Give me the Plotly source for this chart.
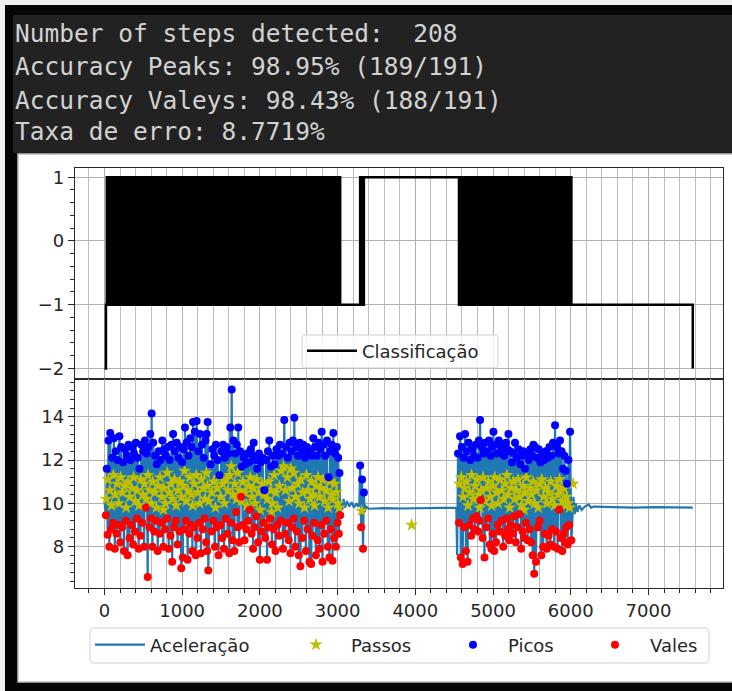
import numpy as np
import plotly.graph_objects as go

W, H = 732, 691

# ---------------- detected peaks (Picos) ----------------
picos_x = [
    30, 52, 74, 98, 121, 145, 168, 192, 215, 239,
    262, 286, 310, 333, 357, 380, 404, 428, 451, 475,
    498, 521, 545, 568, 590, 607, 628, 651, 674, 698,
    721, 745, 768, 792, 815, 838, 862, 883, 906, 930,
    953, 977, 1000, 1018, 1036, 1058, 1081, 1104, 1122, 1140,
    1163, 1186, 1208, 1231, 1254, 1277, 1300, 1315, 1328, 1365,
    1388, 1411, 1434, 1457, 1480, 1503, 1526, 1549, 1572, 1595,
    1620, 1637, 1660, 1683, 1704, 1722, 1745, 1768, 1791, 1814,
    1837, 1860, 1883, 1905, 1920, 1943, 1966, 1989, 2012, 2035,
    2058, 2081, 2104, 2121, 2144, 2167, 2190, 2213, 2236, 2259,
    2282, 2314, 2337, 2360, 2383, 2406, 2425, 2443, 2466, 2489,
    2512, 2535, 2558, 2581, 2604, 2627, 2650, 2670, 2687, 2710,
    2733, 2756, 2778, 2795, 2818, 2841, 2864, 2884, 2905, 2925,
    2945, 2968, 2990, 3008, 3024,
    3290, 3315, 3338,
    4550, 4575, 4598, 4621, 4640, 4662, 4685, 4708, 4731, 4754,
    4777, 4800, 4818, 4833, 4856, 4879, 4902, 4925, 4948, 4970,
    4988, 5005, 5028, 5051, 5074, 5097, 5120, 5143, 5166, 5184,
    5198, 5221, 5244, 5266, 5283, 5306, 5329, 5352, 5372, 5390,
    5412, 5435, 5458, 5481, 5500, 5519, 5542, 5565, 5588, 5611,
    5634, 5657, 5680, 5703, 5726, 5749, 5772, 5798, 5821, 5842,
    5862, 5882, 5900, 5918, 5935, 5952, 5970, 5991,
]
picos_y = [
    11.6, 12.9, 13.25, 12.1, 13.0, 12.4, 12.0, 13.1, 12.6, 11.9,
    12.5, 12.2, 12.7, 12.0, 12.6, 12.3, 12.8, 12.1, 11.6, 12.7,
    12.4, 12.9, 12.3, 12.6, 13.2, 14.15, 12.8, 12.2, 11.8, 12.4,
    12.0, 12.9, 12.5, 12.2, 12.6, 12.0, 12.7, 13.2, 12.4, 12.8,
    12.1, 12.6, 11.9, 12.5, 13.5, 12.8, 12.2, 13.0, 12.6, 13.75,
    13.3, 13.8, 12.4, 13.2, 12.7, 12.1, 12.9, 13.2, 13.75, 11.8,
    12.5, 12.2, 12.7, 12.0, 11.3, 12.4, 12.7, 12.1, 12.6, 12.3,
    13.5, 15.25, 12.9, 12.3, 12.7, 13.5, 12.4, 11.7, 12.1, 11.8,
    12.3, 11.9, 12.5, 12.2, 12.8, 12.0, 11.6, 12.3, 11.9, 12.1,
    10.6, 12.0, 12.4, 12.9, 11.7, 12.2, 11.8, 12.5, 12.2, 12.7,
    12.3, 13.85, 12.6, 12.1, 12.8, 12.4, 12.9, 13.95, 12.6, 12.2,
    12.8, 12.4, 12.7, 12.1, 12.6, 12.3, 12.5, 12.2, 13.0, 12.6,
    12.2, 12.8, 12.5, 13.3, 12.7, 12.2, 12.9, 11.2, 12.4, 12.7,
    13.25, 12.3, 12.6, 12.1, 11.4,
    11.75, 11.1, 10.5,
    12.3, 13.1, 12.6, 12.1, 13.2, 12.4, 12.8, 12.0, 12.5, 12.2,
    12.7, 12.1, 12.9, 13.85, 12.6, 12.3, 12.8, 12.4, 12.9, 12.2,
    12.6, 13.3, 12.7, 12.3, 12.9, 12.4, 12.6, 12.2, 12.8, 12.5,
    13.2, 12.4, 11.9, 12.3, 12.8, 12.1, 12.5, 11.8, 12.2, 12.4,
    11.6, 12.3, 12.0, 12.5, 12.2, 12.7, 12.6, 12.1, 12.5, 11.9,
    12.3, 12.0, 12.4, 12.1, 12.6, 12.2, 12.8, 13.6, 12.6, 12.3,
    12.9, 12.4, 11.6, 12.2, 11.5, 10.9, 12.0, 13.3,
]

# ---------------- detected valleys (Vales) ----------------
vales_x = [
    19, 41, 63, 86, 110, 133, 157, 180, 204, 227,
    251, 274, 298, 322, 345, 369, 392, 416, 440, 463,
    487, 510, 532, 556, 579, 598, 617, 640, 663, 686,
    710, 733, 757, 780, 804, 827, 850, 872, 895, 918,
    941, 965, 988, 1009, 1027, 1047, 1070, 1092, 1113, 1131,
    1151, 1175, 1197, 1220, 1242, 1266, 1288, 1308, 1321, 1336,
    1376, 1400, 1422, 1446, 1468, 1492, 1514, 1538, 1560, 1584,
    1607, 1628, 1648, 1671, 1693, 1713, 1734, 1757, 1779, 1802,
    1825, 1848, 1871, 1894, 1912, 1931, 1954, 1977, 2000, 2023,
    2046, 2069, 2092, 2112, 2132, 2155, 2178, 2201, 2224, 2247,
    2270, 2297, 2325, 2348, 2371, 2394, 2415, 2434, 2454, 2477,
    2500, 2521, 2546, 2569, 2592, 2615, 2638, 2660, 2678, 2698,
    2721, 2744, 2767, 2786, 2806, 2829, 2852, 2874, 2894, 2915,
    2935, 2956, 2979, 2999, 3016, 3033,
    3303, 3327,
    4562, 4586, 4609, 4630, 4651, 4673, 4696, 4719, 4742, 4765,
    4788, 4809, 4825, 4844, 4867, 4890, 4913, 4936, 4959, 4979,
    4996, 5016, 5039, 5062, 5085, 5108, 5131, 5154, 5175, 5191,
    5209, 5232, 5255, 5274, 5294, 5317, 5340, 5362, 5381, 5401,
    5423, 5446, 5469, 5490, 5510, 5530, 5553, 5576, 5600, 5622,
    5645, 5668, 5691, 5714, 5737, 5760, 5785, 5809, 5831, 5852,
    5872, 5891, 5909, 5926, 5943, 5961, 5980, 6008,
]
vales_y = [
    9.45, 8.55, 8.0, 8.8, 9.1, 7.9, 8.6, 9.0, 8.2, 8.9,
    7.8, 9.2, 7.6, 8.4, 9.0, 8.1, 8.7, 9.3, 7.9, 8.5,
    9.1, 8.0, 9.8, 6.6, 8.9, 9.3, 8.0, 8.7, 9.2, 7.8,
    8.6, 9.1, 8.0, 8.8, 9.3, 7.9, 8.5, 7.3, 8.9, 9.2,
    8.1, 8.7, 7.0, 7.5, 8.8, 9.2, 7.4, 8.6, 9.0, 7.8,
    8.9, 7.6, 8.4, 9.1, 7.7, 8.8, 9.3, 8.2, 7.8, 6.9,
    8.7, 9.2, 8.0, 8.9, 7.6, 9.0, 8.4, 7.9, 9.3, 8.6,
    7.7, 9.1, 8.3, 7.8, 9.6, 8.9, 8.2, 10.3, 9.0, 8.3,
    8.8, 9.2, 9.7, 8.6, 7.9, 8.9, 9.4, 8.2, 7.4, 8.7,
    9.1, 8.4, 7.4, 8.9, 9.3, 8.1, 8.8, 7.8, 9.0, 8.5,
    9.2, 7.9, 8.6, 9.1, 8.3, 7.7, 8.9, 9.3, 8.0, 8.7,
    7.6, 7.1, 8.4, 9.2, 7.8, 8.8, 7.3, 7.2, 8.5, 9.1,
    7.6, 8.3, 7.9, 9.0, 7.3, 8.6, 9.2, 8.0, 7.5, 8.8,
    7.35, 8.4, 8.0, 9.1, 8.6, 9.45,
    8.9, 7.9,
    9.1, 7.5, 7.2, 8.9, 7.8, 7.3, 9.0, 8.5, 9.3, 8.8,
    9.4, 8.7, 9.2, 10.15, 8.4, 7.5, 8.9, 9.3, 8.1, 7.9,
    8.6, 7.8, 8.2, 9.0, 8.7, 9.2, 8.0, 8.5, 9.3, 8.8,
    8.3, 9.0, 8.6, 9.4, 8.2, 8.9, 9.5, 7.9, 8.7, 8.4,
    9.1, 8.3, 8.8, 8.2, 7.6, 6.75, 7.3, 8.9, 9.2, 7.6,
    8.0, 8.6, 7.9, 8.5, 8.1, 8.8, 8.0, 8.7, 7.9, 9.7,
    8.4, 7.8, 8.6, 8.2, 8.9, 8.1, 9.0, 8.3,
]

# ---------------- detected steps (Passos) ----------------
passos_x = [
    24, 46, 68, 91, 115, 138, 162, 185, 209, 232,
    256, 279, 303, 327, 350, 374, 397, 421, 445, 468,
    492, 515, 537, 561, 584, 602, 622, 645, 668, 691,
    715, 738, 762, 785, 809, 832, 855, 877, 900, 923,
    946, 970, 993, 1013, 1031, 1052, 1075, 1097, 1117, 1135,
    1156, 1180, 1202, 1225, 1247, 1271, 1293, 1311, 1324, 1342,
    1381, 1405, 1427, 1451, 1473, 1497, 1519, 1543, 1565, 1589,
    1612, 1632, 1653, 1676, 1698, 1717, 1739, 1762, 1784, 1807,
    1830, 1853, 1876, 1899, 1916, 1936, 1959, 1982, 2005, 2028,
    2051, 2074, 2097, 2116, 2137, 2160, 2183, 2206, 2229, 2252,
    2275, 2303, 2330, 2353, 2376, 2399, 2419, 2438, 2459, 2482,
    2505, 2526, 2551, 2574, 2597, 2620, 2643, 2665, 2682, 2703,
    2726, 2749, 2772, 2790, 2811, 2834, 2857, 2879, 2899, 2920,
    2940, 2961, 2984, 3003, 3020,
    3310, 3953,
    4567, 4591, 4614, 4635, 4656, 4678, 4701, 4724, 4747, 4770,
    4793, 4813, 4829, 4849, 4872, 4895, 4918, 4941, 4964, 4983,
    5000, 5021, 5044, 5067, 5090, 5113, 5136, 5159, 5179, 5194,
    5214, 5237, 5260, 5278, 5299, 5322, 5345, 5366, 5385, 5405,
    5428, 5451, 5474, 5494, 5514, 5535, 5558, 5581, 5605, 5627,
    5650, 5673, 5696, 5719, 5742, 5765, 5790, 5814, 5836, 5856,
    5876, 5895, 5913, 5930, 5947, 5965, 5985,
    6030, 760, 2150, 5400,
]
passos_y = [
    10.2, 11.1, 10.6, 9.9, 11.3, 10.4, 10.9, 10.0, 11.2, 10.5,
    10.8, 9.8, 11.0, 10.3, 10.7, 11.2, 10.1, 10.6, 9.9, 11.1,
    10.4, 10.9, 10.2, 11.3, 10.6, 10.0, 11.0, 10.5, 9.8, 10.8,
    11.2, 10.3, 10.7, 10.0, 11.4, 10.5, 10.9, 10.2, 11.1, 9.9,
    10.6, 11.0, 10.3, 10.8, 11.5, 10.1, 10.6, 11.2, 10.4, 9.9,
    10.9, 11.3, 10.5, 10.0, 11.1, 10.7, 10.2, 11.4, 10.8, 10.1,
    10.5, 11.0, 9.8, 10.7, 11.2, 10.3, 10.9, 10.0, 11.1, 10.6,
    11.3, 11.7, 10.4, 10.9, 10.2, 11.4, 10.6, 10.1, 11.0, 10.5,
    9.9, 10.8, 11.2, 10.3, 10.7, 10.0, 11.1, 10.5, 9.7, 10.9,
    10.4, 9.1, 10.2, 11.0, 10.6, 10.0, 11.3, 10.5, 9.8, 10.8,
    11.5, 11.7, 10.6, 11.2, 10.1, 11.6, 10.7, 11.4, 10.3, 10.9,
    10.0, 11.1, 10.5, 9.8, 11.3, 10.6, 10.2, 11.0, 10.4, 9.9,
    10.8, 11.2, 10.3, 10.7, 11.1, 10.1, 10.6, 9.8, 11.0, 10.4,
    10.2, 10.9, 10.5, 10.0, 9.8,
    9.65, 9.0,
    10.9, 11.2, 10.3, 10.7, 11.0, 9.9, 10.5, 11.3, 10.2, 10.8,
    11.1, 10.4, 9.8, 10.6, 11.2, 10.1, 10.7, 11.0, 10.3, 9.9,
    10.8, 11.2, 10.5, 10.0, 11.1, 10.6, 10.2, 10.9, 11.3, 10.4,
    9.8, 10.7, 11.0, 10.2, 10.6, 11.1, 10.3, 9.9, 10.8, 10.5,
    11.2, 10.1, 10.7, 10.4, 11.0, 10.0, 10.6, 9.8, 10.9, 11.1,
    10.3, 10.7, 10.0, 10.5, 11.0, 10.2, 9.9, 10.8, 10.4, 11.1,
    10.6, 10.1, 10.7, 9.9, 10.3, 10.0, 9.8,
    10.9, 9.7, 9.6, 9.7,
]

# acceleration samples in the quiet stretches (between/after the walking bouts)
acel_quieto_x = [
    0, 3045, 3060, 3075, 3095, 3120, 3150, 3180, 3210, 3240, 3265, 3280,
    3350, 3365, 3400, 3600, 3800, 4000, 4200, 4400, 4528, 4538,
    6020, 6035, 6050, 6065, 6085, 6110, 6140, 6180, 6230, 6260, 6300,
    6500, 6800, 7100, 7400, 7570,
]
acel_quieto_y = [
    10.1, 10.1, 9.7, 10.2, 9.8, 10.1, 9.85, 10.05, 9.8, 10.0, 9.85, 10.0,
    9.6, 9.85, 9.75, 9.78, 9.76, 9.77, 9.78, 9.76, 9.8, 7.6,
    9.4, 10.3, 9.5, 10.0, 9.6, 9.9, 9.7, 9.85, 9.95, 9.8, 9.85,
    9.82, 9.8, 9.82, 9.8, 9.8,
]

# classification level outside the recording (start / end samples)
classe_borda_x = [0, 7570]
classe_borda_y = [-2, -2]
CLASSE_PICO, CLASSE_VALE = 1, -1

# ---------------- derived series ----------------
acel_x = np.array(picos_x + vales_x + acel_quieto_x, dtype=float)
acel_y = np.array(picos_y + vales_y + acel_quieto_y, dtype=float)
ordem = np.argsort(acel_x, kind="stable")
acel_x, acel_y = acel_x[ordem], acel_y[ordem]

ev_x = np.array(picos_x + vales_x, dtype=float)
ev_y = np.array([CLASSE_PICO] * len(picos_x) + [CLASSE_VALE] * len(vales_x), dtype=float)
ordem = np.argsort(ev_x, kind="stable")
classe_x = np.concatenate([[classe_borda_x[0]], ev_x[ordem], [classe_borda_x[1]]])
classe_y = np.concatenate([[classe_borda_y[0]], ev_y[ordem], [classe_borda_y[1]]])

header_lines = [
    f"Number of steps detected:\u00a0\u00a0{len(passos_x)}",
    "Accuracy Peaks: 98.95% (189/191)",
    "Accuracy Valeys: 98.43% (188/191)",
    "Taxa de erro: 8.7719%",
]


def fx(p):
    return p / W


def fy(p):
    return 1 - p / H


def rounded_box(x0, y0, x1, y1, r):
    pts = [
        ("M", [(x0 + r, y0)]), ("L", [(x1 - r, y0)]), ("Q", [(x1, y0), (x1, y0 + r)]),
        ("L", [(x1, y1 - r)]), ("Q", [(x1, y1), (x1 - r, y1)]), ("L", [(x0 + r, y1)]),
        ("Q", [(x0, y1), (x0, y1 - r)]), ("L", [(x0, y0 + r)]), ("Q", [(x0, y0), (x0 + r, y0)]),
    ]
    s = ""
    for cmd, pp in pts:
        s += cmd + " ".join(f"{fx(a):.5f},{fy(b):.5f}" for a, b in pp) + " "
    return s + "Z"


TICK_FONT = dict(family="DejaVu Sans", size=18, color="#262626")
LEG_FONT = dict(family="DejaVu Sans", size=18, color="#262626")
GRID = "#b0b0b0"
GRID_MINOR = "#bdbdbd"
SPINE = "#2a2a2a"

X_DOM = [fx(75), fx(723)]
X_RANGE = [-379, 7959]

fig = go.Figure()

fig.add_trace(go.Scatter(
    x=classe_x, y=classe_y, mode="lines", name="Classificação",
    line=dict(color="black", width=2.5, shape="hv"),
    xaxis="x", yaxis="y", legend="legend",
))
fig.add_trace(go.Scatter(
    x=acel_x, y=acel_y, mode="lines", name="Aceleração",
    line=dict(color="#1f77b4", width=2.2),
    xaxis="x2", yaxis="y2", legend="legend2",
))
fig.add_trace(go.Scatter(
    x=passos_x, y=passos_y, mode="markers", name="Passos",
    marker=dict(symbol="star", color="#bfbf00", size=10, line=dict(width=0)),
    xaxis="x2", yaxis="y2", legend="legend3",
))
fig.add_trace(go.Scatter(
    x=picos_x, y=picos_y, mode="markers", name="Picos",
    marker=dict(symbol="circle", color="#0000ff", size=8, line=dict(width=0)),
    xaxis="x2", yaxis="y2", legend="legend4",
))
fig.add_trace(go.Scatter(
    x=vales_x, y=vales_y, mode="markers", name="Vales",
    marker=dict(symbol="circle", color="#ff0000", size=8, line=dict(width=0)),
    xaxis="x2", yaxis="y2", legend="legend5",
))

xaxis_common = dict(
    domain=X_DOM, range=X_RANGE, dtick=1000, tick0=0,
    showgrid=True, gridcolor=GRID, gridwidth=1.3,
    showline=True, linecolor=SPINE, linewidth=1.3, mirror=True,
    ticks="outside", ticklen=6, tickwidth=1.2, tickcolor=SPINE,
    minor=dict(dtick=200, tick0=0, showgrid=True, gridcolor=GRID_MINOR, gridwidth=1.3,
               ticks="outside", ticklen=3.5, tickwidth=1, tickcolor=SPINE),
    zeroline=False, tickfont=TICK_FONT,
)
yaxis_common = dict(
    showgrid=True, gridcolor=GRID, gridwidth=1.3,
    showline=True, linecolor=SPINE, linewidth=1.3, mirror=True,
    ticks="outside", ticklen=6, tickwidth=1.2, tickcolor=SPINE,
    zeroline=False, tickfont=TICK_FONT,
)

legend_common = dict(
    bgcolor="rgba(0,0,0,0)", borderwidth=0, font=LEG_FONT,
    xanchor="left", yanchor="middle", tracegroupgap=0,
)

shapes = [
    # light outer strip, dark console header, white output panel
    dict(type="rect", xref="paper", yref="paper", x0=0, x1=1, y0=fy(5), y1=1,
         fillcolor="#f0f0f0", line=dict(width=0), layer="below"),
    dict(type="rect", xref="paper", yref="paper", x0=0, x1=fx(5), y0=0, y1=1,
         fillcolor="#f0f0f0", line=dict(width=0), layer="below"),
    dict(type="rect", xref="paper", yref="paper", x0=fx(13), x1=1, y0=fy(153), y1=fy(15),
         fillcolor="#222222", line=dict(width=0), layer="below"),
    dict(type="rect", xref="paper", yref="paper", x0=fx(18), x1=fx(733), y0=fy(682), y1=fy(154),
         fillcolor="white", line=dict(color="#bdbdbd", width=1.5), layer="below"),
    # legend frames
    dict(type="path", xref="paper", yref="paper", path=rounded_box(302, 335, 498, 368, 4),
         fillcolor="rgba(255,255,255,0.82)", line=dict(color="#d0d0d0", width=1), layer="above"),
    dict(type="path", xref="paper", yref="paper", path=rounded_box(90, 628, 709, 663, 4),
         fillcolor="rgba(255,255,255,0.82)", line=dict(color="#d0d0d0", width=1), layer="above"),
]

annotations = []
for txt, yc in zip(header_lines, [34, 67, 100, 132]):
    annotations.append(dict(
        text=txt, xref="paper", yref="paper", x=fx(13), y=fy(yc),
        xanchor="left", yanchor="middle", showarrow=False,
        font=dict(family="DejaVu Sans Mono", size=24.5, color="#d2d2d2"),
    ))

fig.update_layout(
    width=W, height=H, margin=dict(l=0, r=0, t=0, b=0),
    paper_bgcolor="#050505", plot_bgcolor="white",
    showlegend=True,
    xaxis=dict(**xaxis_common, anchor="y", showticklabels=False, matches="x2"),
    yaxis=dict(**yaxis_common, domain=[fy(379), fy(168)], range=[-2.165, 1.145],
               dtick=1, tick0=0, anchor="x",
               minor=dict(dtick=0.2, ticks="outside", ticklen=3.5, tickwidth=1,
                          tickcolor=SPINE, showgrid=False)),
    xaxis2=dict(**xaxis_common, anchor="y2"),
    yaxis2=dict(**yaxis_common, domain=[fy(588), fy(379)], range=[6.09, 15.74],
                dtick=2, tick0=0, anchor="x2",
                minor=dict(dtick=0.4, ticks="outside", ticklen=3.5, tickwidth=1,
                           tickcolor=SPINE, showgrid=False)),
    legend=dict(**legend_common, itemwidth=50, x=fx(302), y=fy(351)),
    legend2=dict(**legend_common, itemwidth=50, x=fx(90), y=fy(645)),
    legend3=dict(**legend_common, itemwidth=60, x=fx(281), y=fy(645)),
    legend4=dict(**legend_common, itemwidth=60, x=fx(438), y=fy(645)),
    legend5=dict(**legend_common, itemwidth=60, x=fx(580), y=fy(645)),
    shapes=shapes,
    annotations=annotations,
)

fig.write_html("out.html")
